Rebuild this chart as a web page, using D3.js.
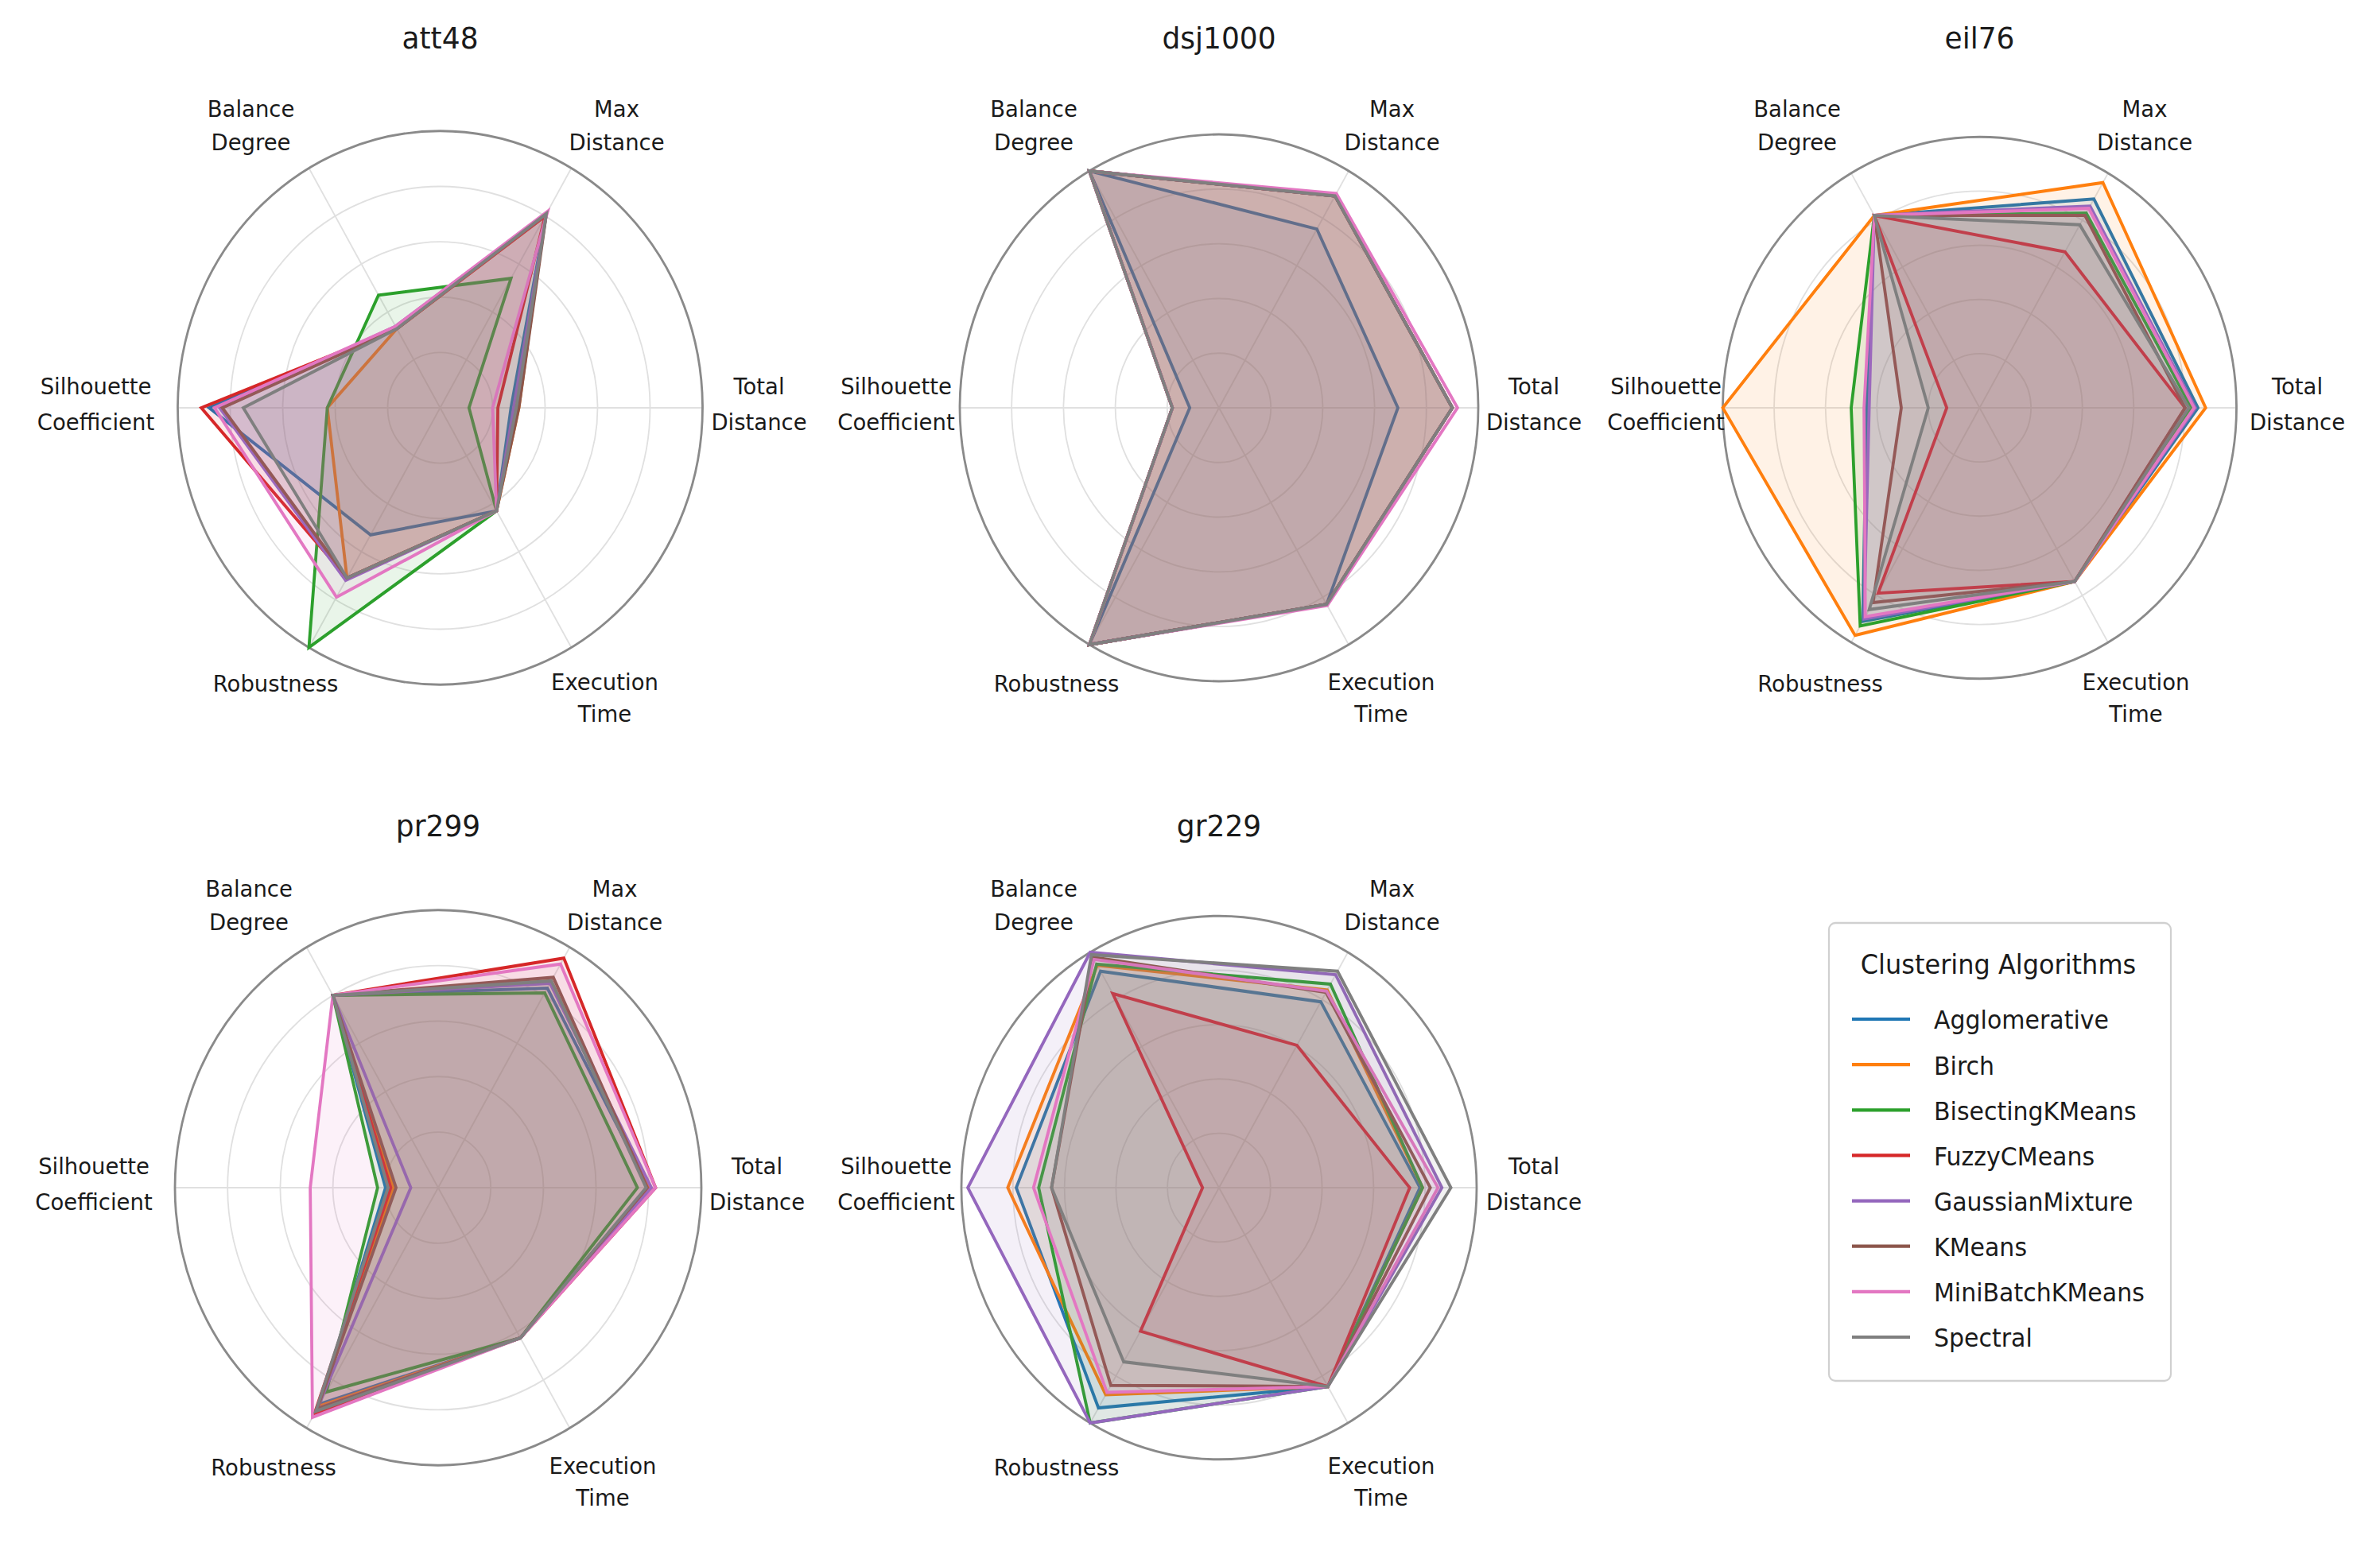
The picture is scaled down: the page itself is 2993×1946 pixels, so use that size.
<!DOCTYPE html>
<html><head><meta charset="utf-8">
<script src="https://cdn.jsdelivr.net/npm/d3@7"></script>
<style>body{margin:0;background:#fff}svg{display:block}</style>
</head><body><div id="chart"></div>
<script>
// ---------- data ----------
const axisLabels = [["Total","Distance"],["Max","Distance"],["Balance","Degree"],["Silhouette","Coefficient"],["Robustness"],["Execution","Time"]];
const algorithms = ["Agglomerative","Birch","BisectingKMeans","FuzzyCMeans","GaussianMixture","KMeans","MiniBatchKMeans","Spectral"];
const colors = ["#1f77b4","#ff7f0e","#2ca02c","#d62728","#9467bd","#8c564b","#e377c2","#7f7f7f"];
const datasets = ["att48","dsj1000","eil76","pr299","gr229"];
const gridLevels = [0.2,0.4,0.6,0.8,1.0];
// values per algorithm: [Total, Max, Balance, Silhouette, Robustness, Execution]
const att48 = [
  [0.27,0.81,0.33,0.88,0.53,0.43],
  [0.30,0.80,0.33,0.43,0.71,0.43],
  [0.11,0.54,0.47,0.43,1.00,0.43],
  [0.22,0.80,0.33,0.91,0.71,0.43],
  [0.28,0.81,0.34,0.84,0.72,0.43],
  [0.30,0.81,0.33,0.83,0.71,0.43],
  [0.20,0.82,0.34,0.86,0.79,0.43],
  [0.29,0.81,0.33,0.75,0.71,0.43]
];
const dsj1000 = [
  [0.69,0.755,1.00,0.113,1.00,0.83],
  [0.90,0.895,1.00,0.18,1.00,0.83],
  [0.90,0.895,1.00,0.18,1.00,0.83],
  [0.90,0.895,1.00,0.18,1.00,0.83],
  [0.90,0.895,1.00,0.18,1.00,0.83],
  [0.90,0.895,1.00,0.18,1.00,0.83],
  [0.92,0.905,1.00,0.18,1.00,0.835],
  [0.90,0.895,1.00,0.18,1.00,0.83]
];
const eil76 = [
  [0.85,0.89,0.82,0.44,0.91,0.74],
  [0.88,0.96,0.82,1.00,0.97,0.74],
  [0.825,0.83,0.82,0.50,0.93,0.74],
  [0.80,0.665,0.82,0.128,0.79,0.74],
  [0.84,0.86,0.82,0.43,0.90,0.74],
  [0.80,0.82,0.82,0.305,0.83,0.74],
  [0.835,0.85,0.82,0.45,0.89,0.74],
  [0.815,0.78,0.82,0.20,0.86,0.74]
];
const pr299 = [
  [0.80,0.83,0.80,0.20,0.90,0.625],
  [0.80,0.86,0.80,0.17,0.91,0.625],
  [0.757,0.81,0.80,0.23,0.85,0.625],
  [0.826,0.955,0.80,0.18,0.94,0.625],
  [0.81,0.85,0.80,0.104,0.92,0.625],
  [0.795,0.875,0.80,0.16,0.92,0.625],
  [0.826,0.93,0.80,0.486,0.955,0.625],
  [0.79,0.86,0.80,0.19,0.93,0.625]
];
const gr229 = [
  [0.78,0.79,0.92,0.787,0.936,0.845],
  [0.79,0.84,0.945,0.82,0.88,0.845],
  [0.79,0.865,0.95,0.70,1.00,0.845],
  [0.74,0.605,0.825,0.064,0.61,0.845],
  [0.865,0.905,1.00,0.975,1.00,0.845],
  [0.82,0.83,0.98,0.65,0.84,0.845],
  [0.85,0.835,0.97,0.72,0.87,0.845],
  [0.90,0.92,0.99,0.65,0.74,0.845]
];
const datasetValues = [att48, dsj1000, eil76, pr299, gr229];

// ---------- layout ----------
const W = 2993, H = 1946, KY = 1.055;
const panels = [
  {cx:553.5, cy:513, r:330, col:0, titleY:-452, bottomShift:0},
  {cx:1533, cy:513, r:326, col:1, titleY:-452, bottomShift:0},
  {cx:2489.5, cy:513, r:323, col:2, titleY:-452, bottomShift:0},
  {cx:551, cy:1494, r:331, col:0, titleY:-442, bottomShift:5},
  {cx:1533, cy:1494, r:324, col:1, titleY:-442, bottomShift:5}
];
const labelDX = [
  [401, 222, -238, -433, -207, 207],
  [396, 217.5, -233, -406, -204.5, 204],
  [399.5, 207.5, -229.5, -394.5, -200.5, 196.5]
];
const labelBase = [[-17,28],[-366.5,-324.5],[-366.5,-324.5],[-17,28],[357],[355,395]];
const FONT = "DejaVu Sans";

const svg = d3.select("#chart").append("svg").attr("width",W).attr("height",H)
  .style("background","#fff");

const angleOf = i => Math.PI/2 - i*Math.PI/3; // d3 radial angle (clockwise from 12 o'clock)

panels.forEach((p, k) => {
  const g = svg.append("g").attr("transform",`translate(${p.cx},${p.cy}) scale(1,${KY})`);
  const rScale = d3.scaleLinear().domain([0,1]).range([0,p.r]);
  g.selectAll("circle.grid").data(gridLevels.slice(0,-1)).join("circle")
    .attr("r", d => rScale(d)).attr("fill","none").attr("stroke","#e0e0e0").attr("stroke-width",1.8);
  g.selectAll("line.spoke").data(axisLabels).join("line")
    .attr("x1",0).attr("y1",0)
    .attr("x2",(d,i)=>rScale(1)*Math.sin(angleOf(i)))
    .attr("y2",(d,i)=>-rScale(1)*Math.cos(angleOf(i)))
    .attr("stroke","#e0e0e0").attr("stroke-width",1.8);
  g.append("circle").attr("r", rScale(1)).attr("fill","none").attr("stroke","#8a8a8a").attr("stroke-width",2.8);

  const line = d3.lineRadial().angle((d,i)=>angleOf(i)).radius(d=>rScale(d)).curve(d3.curveLinearClosed);
  const vals = datasetValues[k];
  vals.forEach((v, a) => {
    g.append("path").attr("d", line(v)).attr("fill", colors[a]).attr("fill-opacity",0.1).attr("stroke","none");
    g.append("path").attr("d", line(v)).attr("fill","none").attr("stroke", colors[a])
      .attr("stroke-width",3.8).attr("stroke-linejoin","miter");
  });

  axisLabels.forEach((lines, i) => {
    const t = g.append("text").attr("text-anchor","middle").attr("font-family",FONT)
      .attr("font-size",27.5).attr("fill","#1a1a1a");
    const shift = (i === 4 || i === 5) ? p.bottomShift : 0;
    lines.forEach((s, j) => {
      t.append("tspan").attr("x", labelDX[p.col][i]).attr("y", (labelBase[i][j] + shift)/KY).text(s);
    });
  });
  g.append("text").attr("x",0).attr("y",p.titleY/KY).attr("text-anchor","middle")
    .attr("font-family",FONT).attr("font-size",36).attr("fill","#1a1a1a").text(datasets[k]);
});

// ---------- legend ----------
const L = {x:2300, y:1161, w:430, h:576};
const lg = svg.append("g").attr("transform",`translate(${L.x},${L.y}) scale(1,${KY})`);
lg.append("rect").attr("x",0).attr("y",0).attr("width",L.w).attr("height",L.h/KY)
  .attr("rx",8).attr("ry",8).attr("fill","#fff").attr("fill-opacity",0.8)
  .attr("stroke","#d0d0d0").attr("stroke-width",2.2);
lg.append("text").attr("x",213).attr("y",(1224.6-L.y)/KY).attr("text-anchor","middle")
  .attr("font-family",FONT).attr("font-size",32).attr("fill","#1a1a1a").text("Clustering Algorithms");
const legendY = d3.scaleLinear().domain([0,7]).range([1282-L.y, 1682-L.y]);
algorithms.forEach((name, i) => {
  const y = legendY(i)/KY;
  lg.append("line").attr("x1",29).attr("x2",102).attr("y1",y).attr("y2",y)
    .attr("stroke",colors[i]).attr("stroke-width",4);
  lg.append("text").attr("x",132).attr("y",y + 12.5/KY).attr("font-family",FONT)
    .attr("font-size",30).attr("fill","#1a1a1a").text(name);
});
</script></body></html>
